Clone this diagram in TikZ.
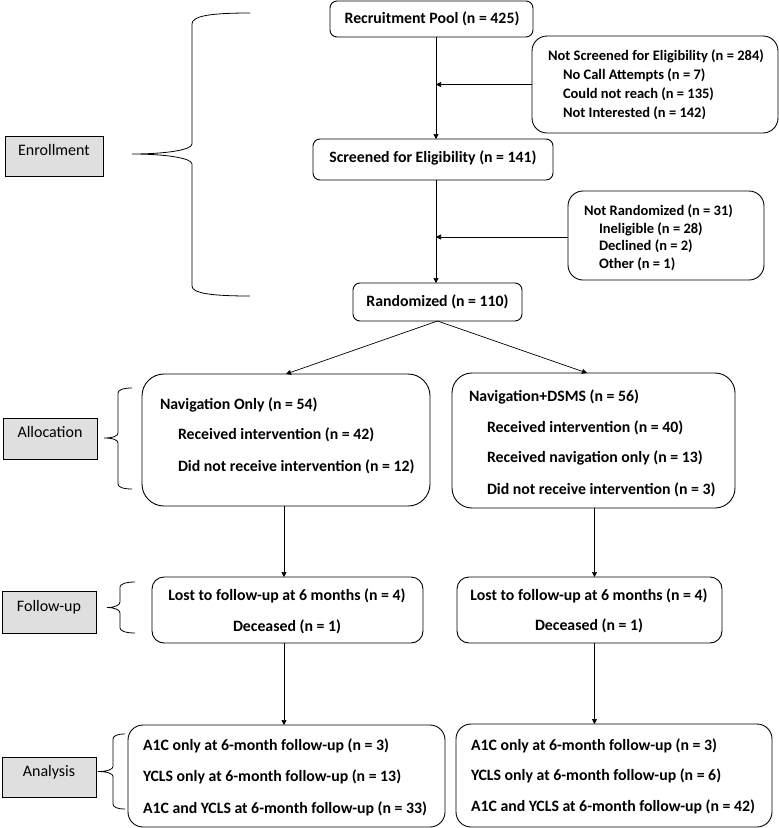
\documentclass[tikz,border=0pt]{standalone}
\usepackage{fontspec}
\setmainfont{Carlito}
\usetikzlibrary{arrows.meta}
\definecolor{lblgray}{RGB}{223,223,223}
\begin{document}
\begin{tikzpicture}[x=1pt,y=-1pt,
  every node/.style={inner sep=0pt, outer sep=0pt},
  flowbox/.style={draw, line width=0.9pt, rounded corners=#1},
  lblbox/.style={draw, line width=1pt, fill=lblgray, font=\fontsize{16}{19}\selectfont},
  tl/.style={anchor=base west, font=\fontsize{15.8}{19}\selectfont\bfseries},
  tc/.style={anchor=base, font=\fontsize{15.8}{19}\selectfont\bfseries},
  sl/.style={anchor=base west, font=\fontsize{14.5}{17}\selectfont\bfseries},
  arr/.style={line width=0.7pt, -{Triangle[length=5pt,width=5pt]}},
  brace/.style={line width=0.8pt}]
\useasboundingbox (0,0) rectangle (779,828);

% top part
\node[flowbox=7pt, minimum width=203pt, minimum height=36pt] (recruit) at (431.5,19) {};
\node[tc] (recruitT) at (432,23) {Recruitment Pool (n = 425)};

\node[flowbox=15pt, minimum width=246pt, minimum height=97pt] (notscr) at (655,84.5) {};
\node[sl] (ns1) at (548,60.8) {Not Screened for Eligibility (n = 284)};
\node[sl] (ns2) at (563,79.8) {No Call Attempts (n = 7)};
\node[sl] (ns3) at (563,98.8) {Could not reach (n = 135)};
\node[sl] (ns4) at (563,117.5) {Not Interested (n = 142)};

\node[flowbox=7pt, minimum width=240pt, minimum height=41pt] (screened) at (433,159.5) {};
\node[tc] (screenedT) at (433,162) {Screened for Eligibility (n = 141)};

\node[flowbox=15pt, minimum width=196pt, minimum height=89pt] (notrand) at (666,235.5) {};
\node[sl] (nr1) at (584,215.5) {Not Randomized (n = 31)};
\node[sl] (nr2) at (599,233) {Ineligible (n = 28)};
\node[sl] (nr3) at (599,250.5) {Declined (n = 2)};
\node[sl] (nr4) at (599,268) {Other (n = 1)};

\node[flowbox=7pt, minimum width=169pt, minimum height=38pt] (rand) at (437.5,302) {};
\node[tc] (randT) at (437.5,306.5) {Randomized (n = 110)};

% allocation
\node[flowbox=22pt, minimum width=288pt, minimum height=132pt] (navonly) at (286,440) {};
\node[tl] (no1) at (160,409) {Navigation Only (n = 54)};
\node[tl] (no2) at (178,439.2) {Received intervention (n = 42)};
\node[tl] (no3) at (178,471) {Did not receive intervention (n = 12)};

\node[flowbox=20pt, minimum width=283pt, minimum height=135pt] (navdsms) at (593.5,440.5) {};
\node[tl] (nd1) at (469,401) {Navigation+DSMS (n = 56)};
\node[tl] (nd2) at (487,432.2) {Received intervention (n = 40)};
\node[tl] (nd3) at (487,462.6) {Received navigation only (n = 13)};
\node[tl] (nd4) at (487,494.2) {Did not receive intervention (n = 3)};

% follow-up
\node[flowbox=12pt, minimum width=271pt, minimum height=66pt] (fuL) at (287.5,610) {};
\node[tc] (fl1) at (287,600.6) {Lost to follow-up at 6 months (n = 4)};
\node[tc] (fl2) at (287,631.6) {Deceased (n = 1)};

\node[flowbox=12pt, minimum width=265pt, minimum height=66pt] (fuR) at (589.5,610) {};
\node[tc] (fr1) at (589,600) {Lost to follow-up at 6 months (n = 4)};
\node[tc] (fr2) at (589,630.6) {Deceased (n = 1)};

% analysis
\node[flowbox=15pt, minimum width=317pt, minimum height=102pt] (anL) at (286.5,776) {};
\node[tl] (al1) at (143,750.6) {A1C only at 6-month follow-up (n = 3)};
\node[tl] (al2) at (143,781.6) {YCLS only at 6-month follow-up (n = 13)};
\node[tl] (al3) at (143,813.2) {A1C and YCLS at 6-month follow-up (n = 33)};

\node[flowbox=15pt, minimum width=316pt, minimum height=103pt] (anR) at (614,775.5) {};
\node[tl] (ar1) at (471,750) {A1C only at 6-month follow-up (n = 3)};
\node[tl] (ar2) at (471,780) {YCLS only at 6-month follow-up (n = 6)};
\node[tl] (ar3) at (471,811.6) {A1C and YCLS at 6-month follow-up (n = 42)};

% stage labels
\node[lblbox, minimum width=98pt, text height=19.5pt, text depth=20.5pt] (enroll) at (54,156) {Enrollment};
\node[lblbox, minimum width=94pt, text height=19.5pt, text depth=21.5pt] (alloc) at (50,438.5) {Allocation};
\node[lblbox, minimum width=94pt, text height=20.5pt, text depth=21.5pt] (fu) at (49,612) {Follow-up};
\node[lblbox, minimum width=94pt, text height=19.5pt, text depth=20.5pt] (an) at (49,777) {Analysis};

% braces
\draw[brace] (250,13) .. controls (210,13) and (192,16) .. (192,24) -- (192,144)
  .. controls (192,150) and (165,154) .. (132,154)
  .. controls (165,154) and (192,158) .. (192,164) -- (192,286)
  .. controls (192,293) and (210,296) .. (250,296);
\draw[brace] (132,388) .. controls (123,388) and (118,390) .. (118,393) -- (118,433)
  .. controls (118,436) and (113,438) .. (104,438)
  .. controls (113,438) and (118,440) .. (118,443) -- (118,484)
  .. controls (118,487) and (123,489) .. (132,489);
\draw[brace] (135,582) .. controls (126,582) and (120,584) .. (120,587) -- (120,602)
  .. controls (120,605) and (115,607.5) .. (107,607.5)
  .. controls (115,607.5) and (120,610) .. (120,613) -- (120,628)
  .. controls (120,631) and (126,633) .. (135,633);
\draw[brace] (125,734) .. controls (117,734) and (113,736) .. (113,739) -- (113,766.5)
  .. controls (113,769.5) and (107,771.5) .. (98,771.5)
  .. controls (107,771.5) and (113,773.5) .. (113,776.5) -- (113,804)
  .. controls (113,807) and (117,809) .. (125,809);

% connectors
\coordinate (cx) at (436,0);
\coordinate (cl) at (284,0);
\coordinate (cr) at (594.5,0);
\draw[arr] (recruit.south -| cx) -- (screened.north -| cx);
\draw[arr] (notscr.west) -- (notscr.west -| cx);
\draw[arr] (screened.south -| cx) -- (rand.north -| cx);
\draw[arr] ([yshift=-1.5pt]notrand.west) -- ([yshift=-1.5pt]notrand.west -| cx);
\draw[arr] (rand.south) -- (navonly.north);
\draw[arr] (rand.south) -- ([xshift=-6.5pt]navdsms.north);
\draw[arr] (navonly.south -| cl) -- (fuL.north -| cl);
\draw[arr] (navdsms.south -| cr) -- (fuR.north -| cr);
\draw[arr] (fuL.south -| cl) -- (anL.north -| cl);
\draw[arr] (fuR.south -| cr) -- (anR.north -| cr);
\end{tikzpicture}
\end{document}
